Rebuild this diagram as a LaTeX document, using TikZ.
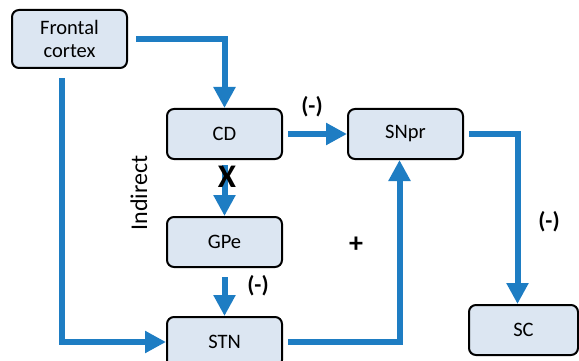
\documentclass[tikz,border=0pt]{standalone}
\usepackage{fontspec}
\setmainfont{Carlito}
\usetikzlibrary{arrows.meta,positioning}
\definecolor{pathblue}{RGB}{30,125,195}
\definecolor{boxfill}{RGB}{220,230,242}

\begin{document}
\begin{tikzpicture}[x=1pt,y=-1pt,
  nbox/.style={draw,line width=2pt,rounded corners=7pt,fill=boxfill,align=center,
               minimum width=115pt,minimum height=50pt,inner sep=0pt,
               font=\fontsize{20.5}{23}\selectfont},
  parr/.style={-{Triangle[length=21pt,width=21pt]},line width=6pt,draw=pathblue,
               shorten <=5pt},
  sign/.style={font=\fontsize{23}{25}\selectfont\bfseries}
]
\clip (0,0) rectangle (579,361);
\node[nbox,minimum height=58pt] (fc) at (69.5,39) {Frontal\\cortex};
\node[nbox] (cd) at (224.5,134) {CD};
\node[nbox,below=56pt of cd] (gpe) {GPe};
\node[nbox,below=48pt of gpe] (stn) {STN};
\node[nbox,right=64pt of cd] (snpr) {SNpr};
\node[nbox,minimum width=109pt] (sc) at (523.5,330) {SC};
\draw[parr,shorten <=8pt] (fc.east) -| (cd.north);
\draw[parr,shorten <=9pt] ([xshift=-7.5pt]fc.south) |- (stn.west);
\draw[parr] (cd) -- (gpe);
\draw[parr,shorten <=9pt] (gpe) -- (stn);
\draw[parr] (cd) -- (snpr);
\draw[parr] (stn.east) -| ([xshift=-6pt]snpr.south);
\draw[parr] (snpr.east) -| ([xshift=-6pt]sc.north);
\node[sign] (xmark) at (227,177) {\fontsize{33}{33}\selectfont X};
\node[sign] (cdsn) at (312,107) {(-)};
\node[sign] (gpstn) at (258,286) {(-)};
\node[sign] (snsc) at (549,222) {(-)};
\node[sign] (plus) at (356,245) {\fontsize{28}{28}\selectfont +};
\node[rotate=90,font=\fontsize{24}{24}\selectfont] (indirect) at (139,193) {Indirect};
\end{tikzpicture}
\end{document}
